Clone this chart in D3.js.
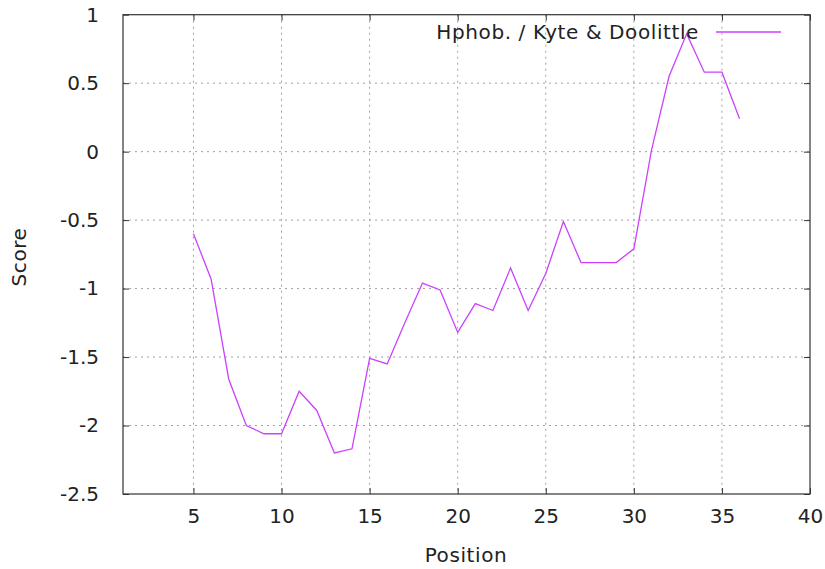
<!DOCTYPE html>
<html><head><meta charset="utf-8">
<script src="https://cdn.jsdelivr.net/npm/d3@7"></script>
<style>body{margin:0;background:#fff}svg{display:block}text{font-family:"DejaVu Sans",sans-serif;fill:#222}</style>
</head><body>
<svg id="c" width="825" height="569"></svg>
<script>
const positions = [5,6,7,8,9,10,11,12,13,14,15,16,17,18,19,20,21,22,23,24,25,26,27,28,29,30,31,32,33,34,35,36];
const scores = [-0.60,-0.93,-1.66,-2.00,-2.06,-2.06,-1.75,-1.89,-2.20,-2.17,-1.51,-1.55,-1.25,-0.96,-1.01,-1.32,-1.11,-1.16,-0.85,-1.16,-0.89,-0.51,-0.81,-0.81,-0.81,-0.71,0.01,0.55,0.86,0.58,0.58,0.24];
const xTicks = [5,10,15,20,25,30,35,40];
const yTicks = [-2.5,-2,-1.5,-1,-0.5,0,0.5,1];
const seriesName = "Hphob. / Kyte & Doolittle";
const xTitle = "Position", yTitle = "Score";

const svg = d3.select("#c");
const L=123, R=810, T=14.7, B=494;
const x = d3.scaleLinear().domain([1,40]).range([L,R]);
const y = d3.scaleLinear().domain([-2.5,1]).range([B,T]);
const fs = 20, ls = "0.6px";

// grid
const g = svg.append("g");
g.selectAll("line.gx").data(xTicks.filter(d=>d<40)).join("line")
  .attr("x1",d=>x(d)).attr("x2",d=>x(d)).attr("y1",T).attr("y2",B)
  .attr("stroke","#a0a0a0").attr("stroke-width",1).attr("stroke-dasharray","2,4");
g.selectAll("line.gy").data(yTicks.filter(d=>d>-2.5&&d<1)).join("line")
  .attr("y1",d=>y(d)).attr("y2",d=>y(d)).attr("x1",L).attr("x2",R)
  .attr("stroke","#a0a0a0").attr("stroke-width",1).attr("stroke-dasharray","2,4");

// axes via d3
const fmt = d=>String(d);
const ax = svg.append("g").attr("transform",`translate(0,${B})`)
  .call(d3.axisBottom(x).tickValues(xTicks).tickSize(-6).tickPadding(16).tickFormat(fmt));
const ay = svg.append("g").attr("transform",`translate(${L},0)`)
  .call(d3.axisLeft(y).tickValues(yTicks).tickSize(-6).tickPadding(24).tickFormat(fmt));
const axT = svg.append("g").attr("transform",`translate(0,${T})`)
  .call(d3.axisTop(x).tickValues(xTicks).tickSize(-6).tickFormat(""));
const ayR = svg.append("g").attr("transform",`translate(${R},0)`)
  .call(d3.axisRight(y).tickValues(yTicks).tickSize(-6).tickFormat(""));
[ax,ay,axT,ayR].forEach(a=>{
  a.select(".domain").remove();
  a.selectAll("line").attr("stroke","#333");
  a.selectAll("text").style("font-size",fs+"px").attr("fill","#222").style("font-family","DejaVu Sans, sans-serif");
});
ax.selectAll("text").attr("dy","0.66em");
svg.append("rect").attr("x",L).attr("y",T).attr("width",R-L).attr("height",B-T)
  .attr("fill","none").attr("stroke","#333").attr("stroke-width",1.2);

// line
svg.append("path").datum(positions.map((p,i)=>[p,scores[i]]))
  .attr("fill","none").attr("stroke","#cc40ff").attr("stroke-width",1.3)
  .attr("d",d3.line().x(d=>x(d[0])).y(d=>y(d[1])));

// legend
svg.append("text").attr("x",699).attr("y",32).attr("dy","0.35em").attr("text-anchor","end")
  .style("font-size",fs+"px").style("letter-spacing",ls).text(seriesName);
svg.append("line").attr("x1",716).attr("x2",781).attr("y1",32).attr("y2",32)
  .attr("stroke","#cc40ff").attr("stroke-width",1.3);

// titles
svg.append("text").attr("x",466).attr("y",555).attr("dy","0.35em").attr("text-anchor","middle")
  .style("font-size",fs+"px").style("letter-spacing",ls).text(xTitle);
svg.append("text").attr("transform","translate(19,257) rotate(-90)").attr("dy","0.35em").attr("text-anchor","middle")
  .style("font-size",fs+"px").style("letter-spacing",ls).text(yTitle);
</script>
</body></html>
